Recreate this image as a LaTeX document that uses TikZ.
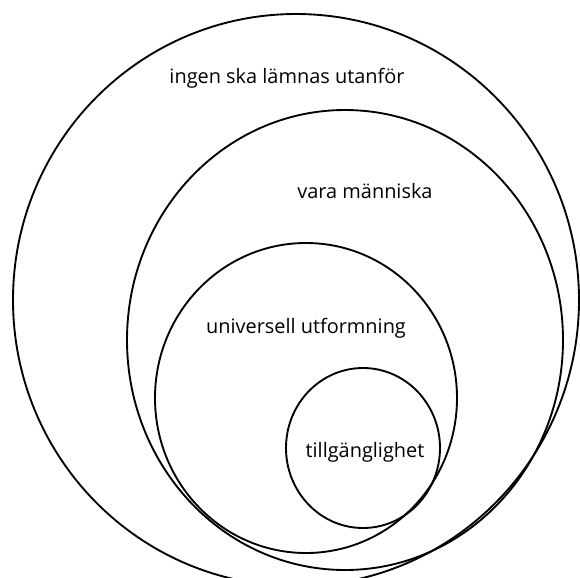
\documentclass[tikz,border=0pt]{standalone}
\usepackage{fontspec}
\setmainfont{Open Sans}
\usetikzlibrary{positioning}
\tikzset{
  ring/.style={draw=black, line width=1.6pt},
  lbl/.style={font=\fontsize{17}{20}\selectfont, inner sep=0pt, anchor=base}
}
\begin{document}
\begin{tikzpicture}[x=0.03cm,y=-0.03cm]
  \useasboundingbox (0,0) rectangle (580,577);
  \clip (0,0) rectangle (580,577);
  % nested rings, outer to inner
  \draw[ring] (296,300) ellipse [x radius=283, y radius=286];
  \draw[ring] (345,340) ellipse [x radius=218, y radius=230];
  \draw[ring] (306,398) ellipse [x radius=151, y radius=155];
  \draw[ring] (363,448) ellipse [x radius=77, y radius=80];
  \node[lbl] (ute) at (287,83) {ingen ska lämnas utanför};
  \node[lbl] (manniska) at (365,198) {vara människa};
  \node[lbl] (universell) at (306,333) {universell utformning};
  \node[lbl] (tillgang) at (365,457) {tillgänglighet};
\end{tikzpicture}
\end{document}
